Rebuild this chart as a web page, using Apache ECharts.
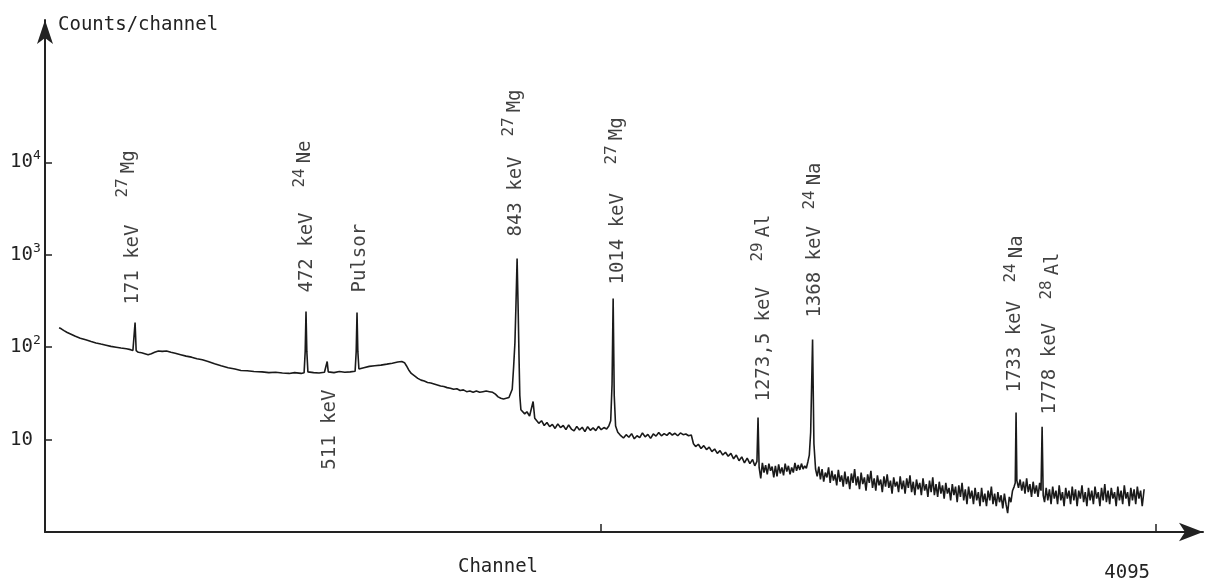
<!DOCTYPE html>
<html>
<head>
<meta charset="utf-8">
<script src="https://cdn.jsdelivr.net/npm/echarts@6.0.0/dist/echarts.min.js"></script>
<style>
  html, body { margin: 0; padding: 0; background: #fff; }
  #main { width: 1216px; height: 586px; }
</style>
</head>
<body>
<div id="main"></div>
<script>
var chartDom = document.getElementById('main');
var myChart = echarts.init(chartDom);
var option;

var FONT = '"DejaVu Sans Mono", "Liberation Mono", monospace';
var INK = '#222';

// gamma spectrum, [channel, counts/channel]
let spectrum = [
  [52,162],[60,158],[70,151],[82,144],[96,138],[112,131],[130,125],[150,120],[170,115],[188,111],
  [206,108],[225,105],[243,102],[262,100],[280,98],[300,96],[315,94],[324,92],[328,93],[332,185],
  [336,92],[344,88],[356,87],[368,85],[380,83],[392,85],[404,88],[418,91],[432,90],[448,91],
  [464,88],[480,86],[500,83],[520,80],[540,78],[560,75],[580,73],[601,70],[625,66],[649,63],
  [675,60],[700,58],[722,56],[745,55.5],[770,54.5],[800,54],[825,53],[850,53.5],[875,52.5],[900,52],
  [920,53],[944,52],[955,53],[959,90],[962,243],[965,90],[969,54],[990,53],[1010,52.5],[1030,53.5],
  [1036,54],[1040,70],[1044,54],[1065,53],[1085,54.5],[1105,53.5],[1125,54],[1143,55],[1147,90],[1150,237],
  [1153,90],[1157,58],[1175,60],[1195,62],[1215,63],[1238,64],[1260,65.5],[1280,67],[1300,69],[1315,70],
  [1325,68],[1332,63],[1340,57],[1350,52],[1362,49],[1374,46],[1386,44],[1398,43],[1410,41.5],[1422,41],
  [1434,40],[1446,39],[1458,38],[1470,37.5],[1482,36.5],[1494,36],[1506,35],[1518,35.5],[1530,34],[1542,34.5],
  [1554,33],[1566,33.5],[1578,32.5],[1590,33.5],[1602,32.5],[1614,33],[1626,33.5],[1638,33],[1650,32.5],[1660,31],
  [1670,29],[1680,28],[1690,27.5],[1700,28],[1710,28.5],[1716,29],[1722,35],[1727,60],[1732,112],[1736,300],
  [1740,910],[1744,250],[1747,80],[1750,30],[1754,21],[1760,20.5],[1768,19],[1776,20],[1786,18],[1793,17.5],
  [1799,25.8],[1805,17],[1812,16.5],[1820,15],[1830,16],[1840,14.2],[1850,15.3],[1860,13.8],[1870,14.6],[1880,13.2],
  [1890,14.8],[1900,13.5],[1910,14.2],[1920,12.8],[1930,14.4],[1940,13.0],[1950,12.4],[1960,13.9],[1970,12.7],[1980,13.6],
  [1990,12.2],[2000,13.8],[2010,12.6],[2020,13.4],[2030,12.5],[2040,13.9],[2050,12.8],[2060,13.5],[2070,13.0],[2078,14.0],
  [2085,16],[2090,40],[2094,336],[2098,30],[2103,14],[2111,12],[2120,11.2],[2132,10.4],[2142,11.3],[2152,10.6],
  [2162,11.6],[2172,10.2],[2182,11.0],[2192,10.5],[2202,11.8],[2212,10.7],[2222,11.4],[2232,10.3],[2242,11.5],[2252,10.9],
  [2262,11.9],[2272,11.0],[2282,11.6],[2292,11.1],[2302,11.9],[2312,11.2],[2322,11.7],[2332,11.0],[2342,11.8],[2352,11.3],
  [2362,11.5],[2372,11.0],[2382,11.2],[2390,9.0],[2398,8.4],[2408,8.9],[2418,8.0],[2428,8.6],[2438,7.8],[2448,8.3],
  [2458,7.4],[2468,7.9],[2478,7.1],[2488,7.6],[2498,6.8],[2508,7.3],[2518,6.6],[2528,7.1],[2538,6.2],[2548,6.8],
  [2558,5.9],[2568,6.5],[2578,5.6],[2588,6.3],[2598,5.5],[2608,6.1],[2616,5.2],[2624,5.8],[2628,17.3],[2632,5.0],
  [2638,3.8],[2644,5.6],[2650,4.4],[2656,5.3],[2662,4.2],[2668,5.5],[2674,4.6],[2680,5.1],[2686,3.9],[2692,5.2],
  [2698,4.0],[2704,5.4],[2710,4.3],[2716,5.0],[2722,4.1],[2728,5.5],[2734,4.5],[2740,5.2],[2746,4.2],[2752,5.0],
  [2758,4.4],[2764,5.6],[2770,4.6],[2776,5.3],[2782,4.7],[2788,5.5],[2794,4.8],[2800,5.2],[2806,4.9],[2812,5.8],
  [2817,6.8],[2822,12],[2829,121],[2834,9],[2840,4.8],[2846,4.0],
  [2852,5.1],[2858,3.7],[2864,4.8],[2870,3.5],[2876,4.4],[2882,3.9],[2888,5.0],[2894,3.4],[2900,4.6],[2906,3.6],
  [2912,4.2],[2918,3.2],[2924,4.7],[2930,3.5],[2936,4.1],[2942,3.1],[2948,4.5],[2954,3.3],[2960,4.0],[2966,2.9],
  [2972,4.3],[2978,3.4],[2984,4.8],[2990,3.2],[2996,4.0],[3002,2.9],[3008,4.4],[3014,3.3],[3020,3.9],[3026,2.8],
  [3032,4.2],[3038,3.4],[3044,4.6],[3050,3.0],[3056,3.8],[3062,2.8],[3068,4.1],[3074,3.2],[3080,3.7],[3086,2.7],
  [3092,4.0],[3098,3.1],[3104,4.2],[3110,3.0],[3116,3.6],[3122,2.6],[3128,3.9],[3134,3.1],[3140,3.5],[3146,2.7],
  [3152,4.0],[3158,2.9],[3164,3.6],[3170,2.6],[3176,3.8],[3182,3.0],[3188,4.1],[3194,2.7],[3200,3.5],[3206,2.5],
  [3212,3.7],[3218,2.9],[3224,3.4],[3230,2.5],[3236,3.8],[3242,2.8],[3248,3.3],[3254,2.4],[3260,3.6],[3266,2.7],
  [3272,3.9],[3278,2.5],[3284,3.3],[3290,2.4],[3296,3.5],[3302,2.6],[3308,3.2],[3314,2.3],[3320,3.4],[3326,2.6],
  [3332,3.0],[3338,2.2],[3344,3.3],[3350,2.5],[3356,3.1],[3362,2.1],[3368,3.2],[3374,2.4],[3380,3.4],[3386,2.2],
  [3392,2.9],[3398,2.0],[3404,3.1],[3410,2.3],[3416,2.8],[3422,2.0],[3428,3.0],[3434,2.2],[3440,2.7],[3446,1.9],
  [3452,3.0],[3458,2.1],[3464,2.6],[3470,1.9],[3476,2.8],[3482,2.2],[3488,3.1],[3494,2.0],[3500,2.6],[3506,1.9],
  [3512,2.7],[3518,2.1],[3524,2.5],[3530,1.8],[3536,2.6],[3542,2.0],[3548,1.6],[3554,2.4],[3560,2.1],[3566,2.8],
  [3572,3.1],[3576,3.4],[3579,19.6],[3582,3.6],[3588,3.0],[3594,3.7],[3600,2.8],[3606,3.5],[3612,2.6],[3618,3.8],
  [3624,2.7],[3630,3.3],[3636,2.4],[3642,3.5],[3648,2.6],[3654,3.2],[3660,2.4],[3666,3.4],[3671,2.8],[3675,13.8],
  [3679,2.5],[3684,2.1],[3690,3.0],[3696,2.2],[3702,2.9],[3708,2.0],[3714,3.1],[3720,2.3],[3726,2.8],[3732,2.0],
  [3738,3.2],[3744,2.2],[3750,2.7],[3756,1.9],[3762,3.0],[3768,2.3],[3774,2.8],[3780,2.0],[3786,3.1],[3792,2.2],
  [3798,2.9],[3804,1.9],[3810,2.8],[3816,2.3],[3822,3.2],[3828,2.1],[3834,2.7],[3840,1.9],[3846,3.0],[3852,2.2],
  [3858,2.8],[3864,2.0],[3870,3.1],[3876,2.3],[3882,2.7],[3888,1.9],[3894,3.0],[3900,2.2],[3906,3.3],[3912,2.1],
  [3918,2.8],[3924,2.0],[3930,3.0],[3936,2.3],[3942,2.7],[3948,1.9],[3954,3.1],[3960,2.2],[3966,2.8],[3972,2.0],
  [3978,3.2],[3984,2.3],[3990,2.7],[3996,1.9],[4002,3.0],[4008,2.2],[4014,2.9],[4020,2.0],[4026,3.1],[4032,2.3],
  [4038,2.8],[4044,1.9],[4051,2.9]
];

// peak annotations: energy text, channel of the text column, counts level where the text starts
let peakTexts    = ['171 keV', '472 keV', 'Pulsor', '511 keV', '843 keV', '1014 keV',
                    '1273,5 keV', '1368 keV', '1733 keV', '1778 keV'];
let peakChannels = [324, 966, 1161, 1050, 1736, 2112, 2650, 2838, 3575, 3704];
let peakCounts   = [289, 390, 390, 4.73, 1574, 476, 25.8, 209, 32.3, 18.7];

// isotope labels: mass number, element, channel, counts level where the text starts
let isoMass      = ['27', '24', '27', '27', '29', '24', '24', '28'];
let isoSymbol    = ['Mg', 'Ne', 'Mg', 'Mg', 'Al', 'Na', 'Na', 'Al'];
let isoChannels  = [308, 960, 1731, 2110, 2649, 2840, 3581, 3714];
let isoCounts    = [4160, 5330, 19000, 9470, 843, 3080, 500, 327];

let yTickValues = [10, 100, 1000, 10000];
let yTickBase   = ['10', '10', '10', '10'];
let yTickExp    = ['', '2', '3', '4'];
let xTickValues = [2048, 4095];
let xLabelValues = [4095];

let peakData = peakChannels.map(function (c, i) {
  return { value: [c, peakCounts[i]], name: peakTexts[i] };
});
let isoData = isoChannels.map(function (c, i) {
  return { value: [c, isoCounts[i]], name: '{s|' + isoMass[i] + '}{b|' + isoSymbol[i] + '}' };
});

var annLabel = {
  show: true,
  position: 'inside',
  rotate: 90,
  align: 'left',
  verticalAlign: 'middle',
  color: '#111',
  fontSize: 19,
  fontFamily: FONT,
  formatter: function (p) { return p.name; }
};

option = {
  backgroundColor: '#fff',
  animation: false,
  textStyle: { fontFamily: FONT },
  grid: { left: 45, top: 20, right: 13, bottom: 54, outerBoundsMode: 'none', containLabel: false },
  xAxis: {
    type: 'value',
    min: 0,
    max: 4268,
    name: 'Channel',
    nameLocation: 'middle',
    nameGap: 26,
    nameMoveOverlap: false,
    nameTextStyle: { color: INK, fontSize: 19, fontFamily: FONT, padding: [0, 252, 0, 0] },
    axisLine: { lineStyle: { color: INK, width: 2 }, symbol: ['none', 'arrow'], symbolSize: [14, 24] },
    axisTick: { inside: true, length: 8, customValues: xTickValues, lineStyle: { color: INK, width: 1.5 } },
    axisLabel: {
      customValues: xLabelValues, color: INK, fontSize: 19, fontFamily: FONT,
      align: 'right', margin: 32, padding: [0, 6, 0, 0],
      formatter: function (v) { return String(Math.round(v)); }
    },
    splitLine: { show: false }
  },
  yAxis: {
    type: 'log',
    logBase: 10,
    min: 1,
    max: 347000,
    name: 'Counts/channel',
    nameLocation: 'end',
    nameGap: -5,
    nameMoveOverlap: false,
    nameTextStyle: { color: INK, fontSize: 19, fontFamily: FONT, align: 'left', verticalAlign: 'middle', padding: [0, 0, 0, 13] },
    axisLine: { lineStyle: { color: INK, width: 2 }, symbol: ['none', 'arrow'], symbolSize: [12, 24] },
    axisTick: { inside: true, length: 7, customValues: yTickValues, lineStyle: { color: INK, width: 1.5 } },
    axisLabel: {
      customValues: yTickValues, color: INK, fontSize: 19, fontFamily: FONT,
      align: 'left', margin: 35,
      formatter: function (v) {
        var i = yTickValues.indexOf(Math.round(v));
        if (i < 0) return '';
        return '{b|' + yTickBase[i] + '}' + (yTickExp[i] ? '{s|' + yTickExp[i] + '}' : '');
      },
      rich: {
        b: { fontSize: 19, fontFamily: FONT, color: INK, lineHeight: 26 },
        s: { fontSize: 13, fontFamily: FONT, color: INK, verticalAlign: 'top', lineHeight: 12 }
      }
    },
    splitLine: { show: false }
  },
  series: [
    {
      name: 'Spectrum',
      type: 'line',
      data: spectrum,
      showSymbol: false,
      lineStyle: { color: '#1a1a1a', width: 1.6 },
      silent: true
    },
    {
      name: 'Energies',
      type: 'scatter',
      data: peakData,
      symbolSize: 0,
      silent: true,
      label: annLabel
    },
    {
      name: 'Isotopes',
      type: 'scatter',
      data: isoData,
      symbolSize: 0,
      silent: true,
      label: Object.assign({}, annLabel, {
        rich: {
          s: { fontSize: 16, fontFamily: FONT, color: '#111', verticalAlign: 'top', lineHeight: 13, padding: [0, 5, 0, 0] },
          b: { fontSize: 19, fontFamily: FONT, color: '#111', lineHeight: 28 }
        }
      })
    }
  ]
};

option && myChart.setOption(option);
</script>
</body>
</html>
